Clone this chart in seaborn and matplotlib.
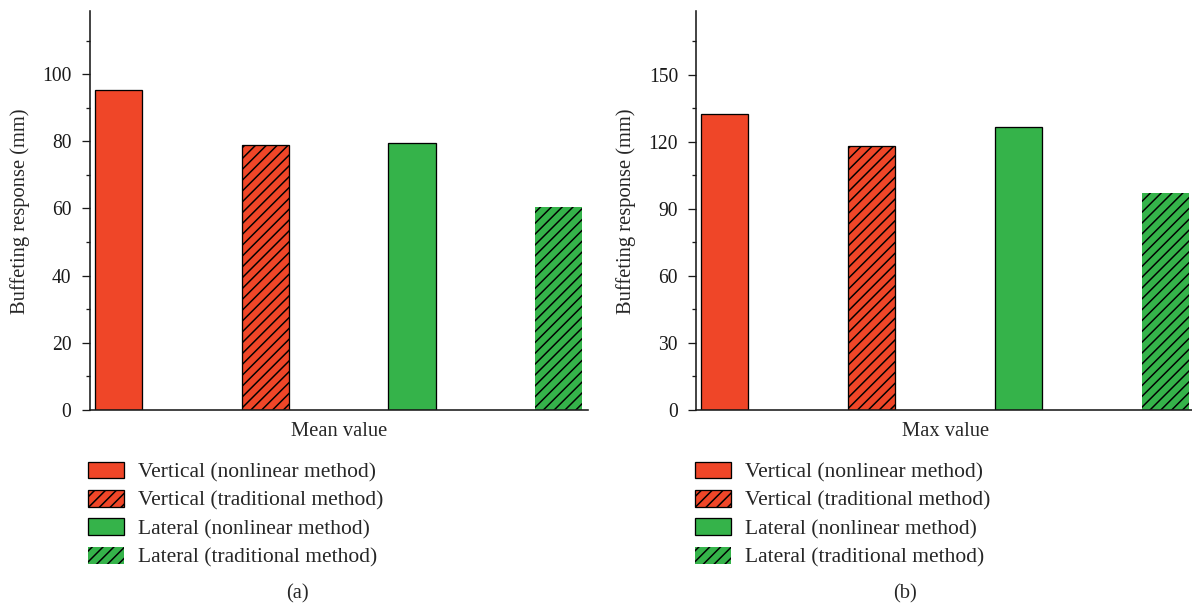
import numpy as np
import pandas as pd
import matplotlib
matplotlib.use("Agg")
import matplotlib.pyplot as plt
from matplotlib.patches import Patch
from matplotlib.ticker import MultipleLocator
import seaborn as sns

# ---------------- data ----------------
series = ["Vertical (nonlinear method)", "Vertical (traditional method)",
          "Lateral (nonlinear method)", "Lateral (traditional method)"]
mean_values = [95.4, 78.9, 79.6, 60.3]
max_values = [132.4, 118.3, 126.6, 97.0]
mean_ticks = [0, 20, 40, 60, 80, 100]
max_ticks = [0, 30, 60, 90, 120, 150]
panel_xlabels = ["Mean value", "Max value"]
panel_tags = ["(a)", "(b)"]
y_label = "Buffeting response (mm)"

# ---------------- style ----------------
RED = "#EF4628"
GREEN = "#35B34A"
colors = [RED, RED, GREEN, GREEN]
hatches = ["", "////", "", "////"]
edge_widths_px = [1.3, 1.3, 1.3, 0.0]

DPI = 130
W, H = 1192, 605


def pt(px):
    return px * 72.0 / DPI


sns.set_style("ticks")
plt.rcParams["font.family"] = ["Liberation Serif", "DejaVu Serif"]
plt.rcParams["hatch.linewidth"] = pt(1.5)
plt.rcParams["axes.edgecolor"] = "#1a1a1a"

FS = pt(20.5)
LEG_FS_PX = 21.5
LEG_FS = pt(LEG_FS_PX)
TICK_FS = pt(19.5)

fig = plt.figure(figsize=(W / DPI, H / DPI), dpi=DPI)

AXW = 498.8
BASE = 410.0
TOP = 11.0

panels = [
    dict(left=89.5, values=mean_values, ticks=mean_ticks, minor=10, ytop=118.8,
         xlabel=panel_xlabels[0], tag=panel_tags[0], ylab_x=18.0, leg_x=88.0, tag_x=297.0),
    dict(left=696.0, values=max_values, ticks=max_ticks, minor=15, ytop=178.5,
         xlabel=panel_xlabels[1], tag=panel_tags[1], ylab_x=624.0, leg_x=695.0, tag_x=905.0),
]

for p in panels:
    ax = fig.add_axes([p["left"] / W, 1 - BASE / H, AXW / W, (BASE - TOP) / H])
    df = pd.DataFrame({"series": series, "value": p["values"]})
    sns.barplot(data=df, x="series", y="value", hue="series", order=series,
                hue_order=series, palette=colors, width=0.32, saturation=1,
                legend=False, ax=ax, edgecolor="black", linewidth=pt(1.3))
    for bar, h, lw in zip(ax.patches, hatches, edge_widths_px):
        bar.set_hatch(h)
        bar.set_linewidth(pt(lw))
        bar.set_edgecolor("black")

    ax.set_xlim(-0.195, 3.2)
    ax.set_ylim(0, p["ytop"])
    ax.set_xticks([])
    ax.set_yticks(p["ticks"])
    ax.set_yticklabels([str(t) for t in p["ticks"]])
    ax.yaxis.set_minor_locator(MultipleLocator(p["minor"]))
    ax.tick_params(axis="y", which="major", direction="out", length=pt(8), width=pt(1.3),
                   pad=pt(10), labelsize=TICK_FS, colors="#1a1a1a")
    ax.tick_params(axis="y", which="minor", direction="out", length=pt(4.3), width=pt(1.3),
                   colors="#1a1a1a")
    sns.despine(ax=ax)
    for s in ("left", "bottom"):
        ax.spines[s].set_linewidth(pt(1.6))

    ax.set_xlabel(p["xlabel"], fontsize=FS)
    ax.xaxis.label.set_va("baseline")
    ax.xaxis.set_label_coords(0.5, -(436 - BASE) / (BASE - TOP))

    ax.set_ylabel(y_label, fontsize=FS)
    ax.yaxis.label.set_va("center")
    ax.yaxis.label.set_ha("center")
    ax.yaxis.set_label_coords((p["ylab_x"] + 2 - p["left"]) / AXW, (BASE - 211) / (BASE - TOP))

    handles = [Patch(facecolor=c, edgecolor="black", hatch=h, linewidth=pt(lw))
               for c, h, lw in zip(colors, hatches, edge_widths_px)]
    ax.legend(handles, series, loc="upper left",
              bbox_to_anchor=(p["leg_x"] / W, 1 - 461.5 / H), bbox_transform=fig.transFigure,
              frameon=False, fontsize=LEG_FS, borderpad=0, borderaxespad=0,
              handlelength=36 / LEG_FS_PX, handleheight=18 / LEG_FS_PX,
              handletextpad=13.7 / LEG_FS_PX, labelspacing=0.345)

    fig.text(p["tag_x"] / W, 1 - 598 / H, p["tag"], ha="center", va="baseline", fontsize=FS)

fig.savefig("out.png", dpi=DPI)
